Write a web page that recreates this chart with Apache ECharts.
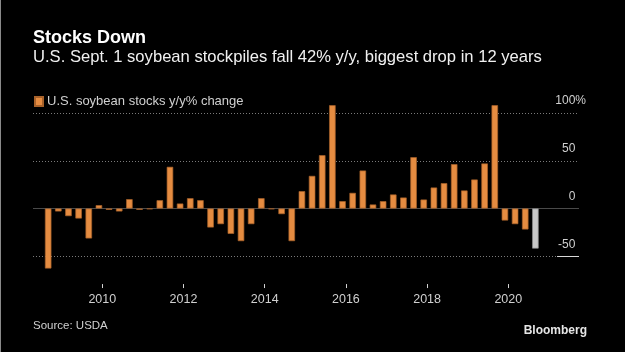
<!DOCTYPE html>
<html>
<head>
<meta charset="utf-8">
<title>Stocks Down</title>
<script src="https://cdn.jsdelivr.net/npm/echarts@6/dist/echarts.min.js"></script>
<style>
html, body { margin: 0; padding: 0; background: #000; }
#main { width: 625px; height: 352px; }
#edge { position: absolute; left: 0; top: 0; width: 1px; height: 352px; background: #8a8a8a; }
</style>
</head>
<body>
<div id="main"></div>
<div id="edge"></div>
<script>
// quarterly stocks reports (Sep 1, Dec 1, Mar 1, Jun 1)
var quarters = [
  '2008-09', '2008-12',
  '2009-03', '2009-06', '2009-09', '2009-12',
  '2010-03', '2010-06', '2010-09', '2010-12',
  '2011-03', '2011-06', '2011-09', '2011-12',
  '2012-03', '2012-06', '2012-09', '2012-12',
  '2013-03', '2013-06', '2013-09', '2013-12',
  '2014-03', '2014-06', '2014-09', '2014-12',
  '2015-03', '2015-06', '2015-09', '2015-12',
  '2016-03', '2016-06', '2016-09', '2016-12',
  '2017-03', '2017-06', '2017-09', '2017-12',
  '2018-03', '2018-06', '2018-09', '2018-12',
  '2019-03', '2019-06', '2019-09', '2019-12',
  '2020-03', '2020-06', '2020-09'
];
// y/y % change
var stockChange = [
  -62.9, -3.1,
  -8.0, -10.5, -31.4, 3.5,
  -1.4, -3.1, 9.8, -1.4,
  -0.7, 8.7, 43.7, 5.2,
  10.8, 8.7, -19.9, -16.4,
  -26.6, -34.2, -16.4, 10.8,
  -0.7, -5.9, -34.2, 18.2,
  34.2, 55.9, 108.3, 7.7,
  16.4, 39.8, 4.2, 7.7,
  14.7, 11.5, 53.8, 9.4,
  22.0, 26.6, 46.5, 18.9,
  30.4, 47.2, 108.3, -12.6,
  -16.4, -22.0, -42.0
];
var latestQuarter = '2020-09';
var yearTicks = [2010, 2012, 2014, 2016, 2018, 2020];
var yLabels = [-50, 0, 50, 100];

var orange = '#e58c41';
var grey = '#c8c8c8';
var font = 'Liberation Sans';

function toYear(q) {
  var p = q.split('-');
  return +p[0] + (+p[1] - 1) / 12;
}

var barData = quarters.map(function (q, i) {
  var item = { value: [toYear(q), stockChange[i]] };
  if (q === latestQuarter) {
    item.itemStyle = { color: grey, borderColor: '#8e8e8e' };
  }
  return item;
});

var chart = echarts.init(document.getElementById('main'));

var option = {
  backgroundColor: '#000',
  animation: false,
  textStyle: { fontFamily: font },
  title: [
    {
      text: 'Stocks Down', left: 33, top: 29, padding: 0,
      textStyle: { color: '#fff', fontSize: 18, fontWeight: 'bold', fontFamily: font }
    },
    {
      text: 'U.S. Sept. 1 soybean stockpiles fall 42% y/y, biggest drop in 12 years', left: 33, top: 49, padding: 0,
      textStyle: { color: '#f0f0f0', fontSize: 16.6, fontWeight: 'normal', fontFamily: font }
    },
    {
      text: 'Source: USDA', left: 33, top: 320, padding: 0,
      textStyle: { color: '#cfcfcf', fontSize: 11.5, fontWeight: 'normal', fontFamily: font }
    },
    {
      text: 'Bloomberg', right: 38, top: 325, padding: 0,
      textStyle: { color: '#e6e6e6', fontSize: 12, fontWeight: 'bold', fontFamily: font }
    }
  ],
  legend: {
    left: 34, top: 95, padding: 0,
    icon: 'rect', itemWidth: 8, itemHeight: 9, itemGap: 10,
    textStyle: { color: '#d0d0d0', fontSize: 13, fontFamily: font, padding: [0, 0, 0, -1] },
    data: ['U.S. soybean stocks y/y% change']
  },
  grid: { left: 33, right: 46, top: 89.25, bottom: 71.95, containLabel: false },
  xAxis: {
    type: 'value',
    min: 2008.293,
    max: 2021.741,
    offset: 4,
    splitLine: { show: false },
    axisLine: { show: true, onZero: false, lineStyle: { color: 'rgba(0,0,0,0)' } },
    axisTick: {
      show: true, length: 4, customValues: yearTicks,
      lineStyle: { color: '#d4d4d4', width: 1 }
    },
    axisLabel: {
      customValues: yearTicks, margin: 9,
      color: '#d0d0d0', fontSize: 12.5, fontFamily: font,
      formatter: function (v) { return String(v); }
    }
  },
  yAxis: [
    {
      type: 'value',
      position: 'right',
      min: -75, max: 125, interval: 25,
      axisLine: { show: false },
      axisTick: { show: false },
      splitLine: {
        show: true,
        lineStyle: { color: ['rgba(0,0,0,0)', '#7a7a7a'], type: [1, 2], width: 1 }
      },
      axisLabel: {
        margin: 7, align: 'right', verticalAlign: 'bottom', padding: [0, 0, 5, 0],
        color: '#d0d0d0', fontSize: 12, lineHeight: 14, fontFamily: font,
        formatter: function (v) {
          if (yLabels.indexOf(v) < 0) return '';
          return v === 100 ? '100%' : v + '{h|%}';
        },
        rich: { h: { color: 'rgba(0,0,0,0)', fontSize: 12, fontFamily: font } }
      }
    },
    {
      // solid zero line
      type: 'value',
      position: 'right',
      min: -75, max: 125, interval: 25,
      axisLine: { show: false },
      axisTick: { show: false },
      axisLabel: { show: false },
      splitLine: {
        show: true,
        lineStyle: {
          color: ['rgba(0,0,0,0)', 'rgba(0,0,0,0)', 'rgba(0,0,0,0)', '#4a4a4a',
                  'rgba(0,0,0,0)', 'rgba(0,0,0,0)', 'rgba(0,0,0,0)', 'rgba(0,0,0,0)', 'rgba(0,0,0,0)'],
          type: 'solid', width: 1
        }
      }
    }
  ],
  series: [
    {
      name: 'U.S. soybean stocks y/y% change',
      type: 'bar',
      barWidth: 6.5,
      itemStyle: { color: orange, borderColor: '#a8622a', borderWidth: 0.7 },
      data: barData,
      markLine: {
        silent: true,
        symbol: 'none',
        label: { show: false },
        lineStyle: { color: '#d8d8d8', type: 'solid', width: 1 },
        data: [[{ coord: [2021.2, -50] }, { coord: [2021.741, -50] }]]
      }
    }
  ]
};

chart.setOption(option);
</script>
</body>
</html>
